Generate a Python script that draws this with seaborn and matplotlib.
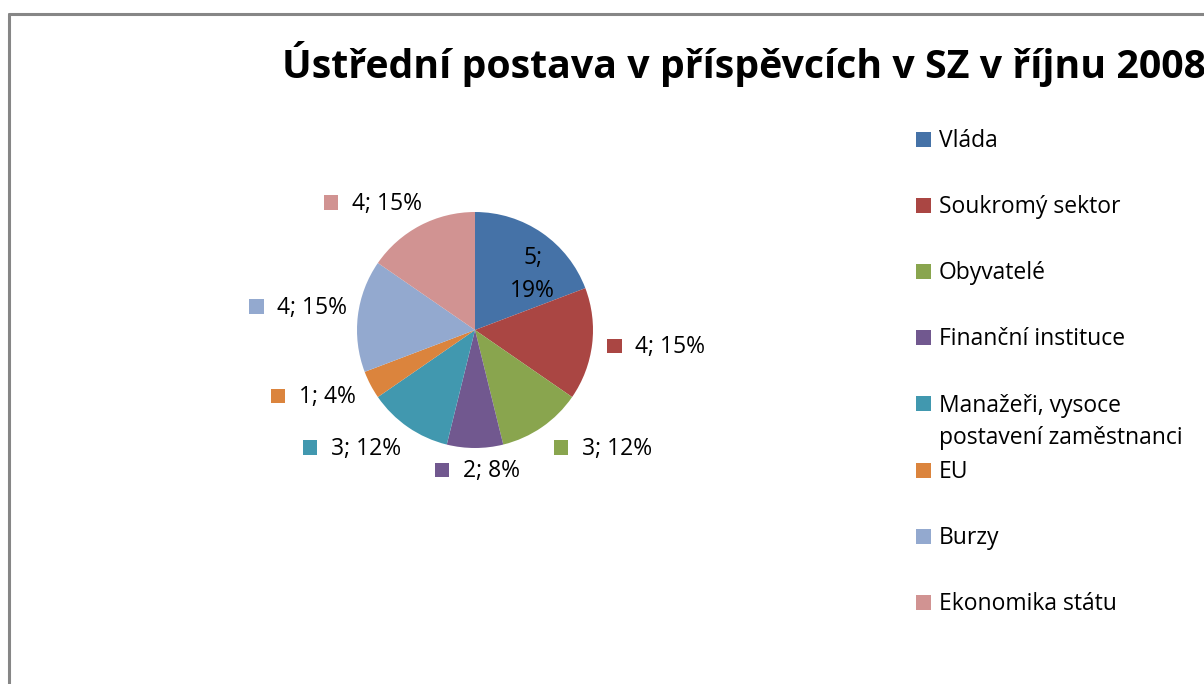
import matplotlib
matplotlib.use("Agg")
import matplotlib.pyplot as plt
import seaborn as sns
from matplotlib.patches import Rectangle
from matplotlib.lines import Line2D

# ---- data ----
title = "Ústřední postava v příspěvcích v SZ v říjnu 2008"
categories = ["Vláda", "Soukromý sektor", "Obyvatelé", "Finanční instituce",
              "Manažeři, vysoce\npostavení zaměstnanci", "EU", "Burzy",
              "Ekonomika státu"]
counts = [5, 4, 3, 2, 3, 1, 4, 4]
colors = ["#4572A7", "#AA4643", "#89A54E", "#71588F",
          "#4198AF", "#DB843D", "#93A9CF", "#D19392"]

# label anchor positions in pie-radius units (layout, Excel "best fit")
label_anchor = [(0.49, 0.559), (1.119, -0.195), (0.669, -1.059), (-0.339, -1.246),
                (-1.458, -1.059), (-1.729, -0.619), (-1.915, 0.136), (-1.280, 1.017)]

sns.set_theme(style="white")
plt.rcParams['font.family'] = ['Open Sans', 'DejaVu Sans']

W, H = 1204, 684
LINE_PX = 32.5  # distance between text lines in pixels
fig = plt.figure(figsize=(W / 100, H / 100), dpi=100)
fig.patch.set_facecolor("white")

# chart frame (left and top edges visible; rest cropped)
fig.add_artist(Line2D([8.5 / W, 8.5 / W], [0, (H - 13.5) / H], color="#868686",
                      lw=2.2, transform=fig.transFigure))
fig.add_artist(Line2D([8.5 / W, 1.0], [(H - 13.5) / H, (H - 13.5) / H], color="#868686",
                      lw=2.2, transform=fig.transFigure))

cx, cy, R = 475, 330, 118
ax = fig.add_axes([(cx - R) / W, (H - cy - R) / H, 2 * R / W, 2 * R / H])
palette = sns.color_palette(colors)
wedges, _ = ax.pie(counts, colors=palette, startangle=90, counterclock=False,
                   wedgeprops=dict(linewidth=0))
ax.set_xlim(-1, 1)
ax.set_ylim(-1, 1)
ax.set_aspect("equal")
ax.axis("off")

fs = 16.5
ls = 1.46
total = sum(counts)
s = 14.5 / R
for i, (c, col, (lx, ly)) in enumerate(zip(counts, palette, label_anchor)):
    pct = round(100 * c / total)
    if i == 0:
        # va='baseline' anchors the last line -> shift down by one line
        ax.text(lx, ly - LINE_PX / R, f"{c};\n{pct}%", ha="center", va="baseline",
                multialignment="center", fontsize=fs, color="black",
                linespacing=ls, clip_on=False)
    else:
        ax.add_patch(Rectangle((lx, ly), s, s, color=col, clip_on=False, lw=0))
        ax.text(lx + 28 / R, ly, f"{c}; {pct}%", ha="left", va="baseline",
                fontsize=fs, color="black", clip_on=False)

# title
fig.text(282 / W, (H - 78) / H, title, fontsize=28.25, fontweight="bold",
         ha="left", va="baseline", color="black")

# legend
for i, (cat, col) in enumerate(zip(categories, palette)):
    yb = 147 + 66.1 * i
    nl = cat.count("\n")
    fig.add_artist(Rectangle((916 / W, (H - yb) / H), 15 / W, 15 / H, color=col,
                             lw=0, transform=fig.transFigure))
    fig.text(939 / W, (H - yb - nl * LINE_PX) / H, cat, fontsize=fs, ha="left",
             va="baseline", color="black", linespacing=ls)

fig.savefig("out.png", dpi=100, facecolor="white")
